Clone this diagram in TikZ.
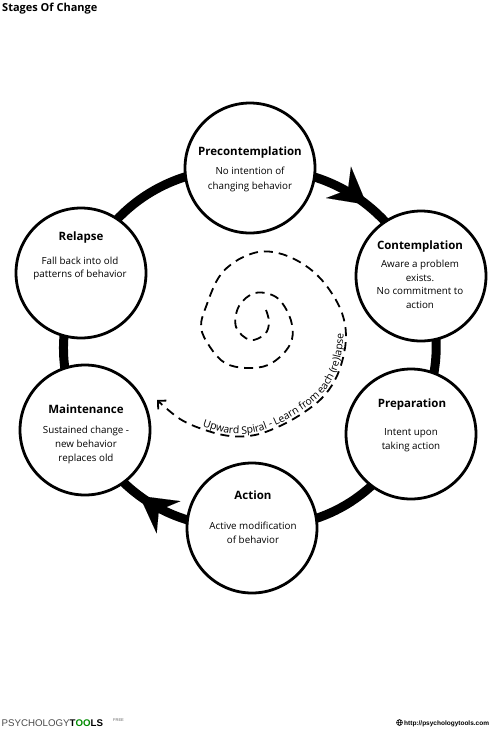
\documentclass[tikz,border=0pt]{standalone}
\usepackage{fontspec}
\setmainfont{Open Sans}
\newfontfamily\footfont{Liberation Sans}
\usetikzlibrary{arrows.meta,decorations.markings,decorations.text,backgrounds}
\begin{document}
\begin{tikzpicture}[x=1pt,y=1pt,
  stage/.style={circle,draw,line width=2.8pt,fill=white,minimum size=130pt,inner sep=0pt},
  stagetitle/.style={anchor=base,inner sep=0pt,font=\bfseries\fontsize{11.5}{14}\selectfont},
  stagebody/.style={anchor=base,inner sep=0pt,align=center,font=\fontsize{9.8}{#1}\selectfont},
  stagebody/.default=14,
  ringarc/.style={line width=9pt},
  ringarrow/.style={postaction={decorate},decoration={markings,mark=at position 0.58 with {\arrow{Stealth[length=36pt,width=40pt,inset=12pt,line width=0.01pt]}}}},
  spiral/.style={line width=1.8pt,dash pattern=on 9pt off 6pt},
]
\useasboundingbox (0,0) rectangle (500,-732);
% stages
\node[stage] (pre)   at (250,-168) {};
\node[stage] (cont)  at (421,-276) {};
\node[stage] (prep)  at (411,-434) {};
\node[stage] (act)   at (252,-528) {};
\node[stage] (maint) at (85,-430) {};
\node[stage] (rel)   at (81,-273) {};
% ring
\begin{scope}[on background layer]
  \fill[white] (0,0) rectangle (500,-732);
  \draw[ringarc,ringarrow] (pre.center) to[bend left=33] (cont.center);
  \draw[ringarc] (cont.center) to[bend left=25.5] (prep.center);
  \draw[ringarc] (prep.center) to[bend left=31] (act.center);
  \draw[ringarc,ringarrow] (act.center) to[bend left=32] (maint.center);
  \draw[ringarc] (maint.center) to[bend left=25] (rel.center);
  \draw[ringarc] (rel.center) to[bend left=33] (pre.center);
\end{scope}
% texts
\node[anchor=base west,inner sep=0pt,font=\bfseries\fontsize{11}{13}\selectfont] (title) at (2,-11.5) {Stages Of Change};
\node[stagetitle] (preT) at (250,-155.5) {Precontemplation};
\node[stagebody=15.5] (preB) at (250,-189.5) {No intention of\\changing behavior};
\node[stagetitle] (contT) at (420,-249) {Contemplation};
\node[stagebody=13.7] (contB) at (420,-308.5) {Aware a problem\\exists.\\No commitment to\\action};
\node[stagetitle] (prepT) at (412,-407) {Preparation};
\node[stagebody] (prepB) at (411,-449.5) {Intent upon\\taking action};
\node[stagetitle] (actT) at (253,-499) {Action};
\node[stagebody] (actB) at (253,-543.5) {Active modification\\of behavior};
\node[stagetitle] (relT) at (81,-240) {Relapse};
\node[stagebody=13.3] (relB) at (80,-277.5) {Fall back into old\\patterns of behavior};
\node[stagetitle] (maintT) at (86,-413) {Maintenance};
\node[stagebody] (maintB) at (86,-461.5) {Sustained change -\\new behavior\\replaces old};
% spiral
\draw[spiral,-{Straight Barb[length=6pt,width=12pt]}] plot[smooth,tension=0.6] coordinates {
 (266,-310) (269,-322) (265,-334) (250,-340) (236,-327) (239,-306) (255,-293) (276,-297)
 (289,-315) (292.7,-335) (285.7,-351) (268,-365) (246,-368) (225,-363) (210,-347) (201,-327)
 (207,-304) (219,-277) (236,-261) (258,-252) (278,-253) (298,-261) (316,-274) (331,-292)
 (342,-313) (346,-335) (343,-358) (335,-380) (322,-398) (303,-413) (280,-426) (255,-435)
 (230,-436) (205,-430) (180,-419) (157,-400)};
\path[decorate,decoration={text along path,text align=center,raise=2.5pt,
  text={|\fontsize{10.4}{12}\selectfont|Upward Spiral - Learn from each (re)lapse}}]
  plot[smooth,tension=0.6] coordinates {(185,-421) (205,-430) (230,-436) (255,-435) (280,-426)
  (303,-413) (322,-398) (335,-380) (343,-358) (346,-335) (344,-316)};
% footer
\node[anchor=base west,inner sep=0pt,font=\footfont\fontsize{9.7}{11}\selectfont,text=black!70] (brand) at (1.5,-726)
  {PSYCHOLOGY\textbf{\textcolor{black}{T}\textcolor{green!55!black}{OO}\textcolor{black}{LS}}};
\node[anchor=base west,inner sep=0pt,font=\footfont\fontsize{4}{5}\selectfont,text=black!60] (free) at (113,-721) {FREE};
\node[anchor=base west,inner sep=0pt,font=\footfont\bfseries\fontsize{6.5}{7}\selectfont] (url) at (404,-725) {http://psychologytools.com};
\draw[line width=0.5pt] (399.5,-722.5) circle (3) ellipse (1.3 and 3) (396.5,-722.5) -- (402.5,-722.5);
\end{tikzpicture}
\end{document}
